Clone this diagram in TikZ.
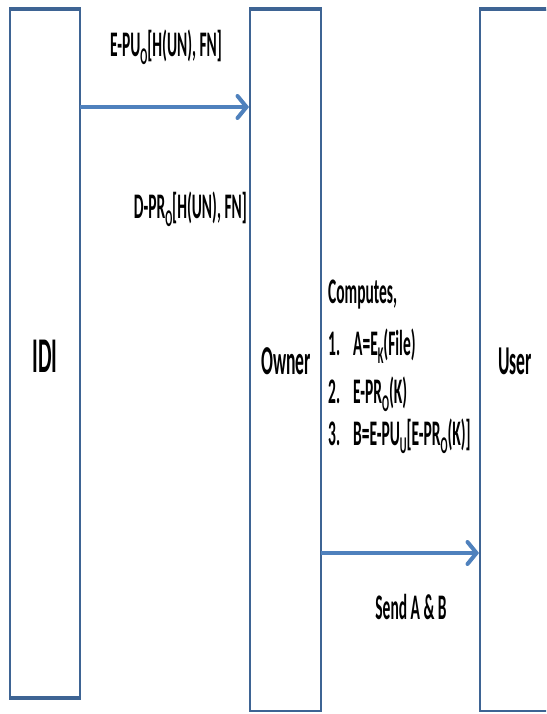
\documentclass[tikz,border=0pt]{standalone}
\usepackage{graphicx}
\usepackage{fontspec}
\setmainfont{Carlito}
\usetikzlibrary{arrows.meta}

\definecolor{laneedge}{HTML}{3E6494}
\definecolor{msgblue}{HTML}{4F81BD}

% condensed bold text and lowered subscripts
\newcommand{\nar}[1]{\scalebox{0.43}[1]{#1}}
\newcommand{\lowsub}[1]{\raisebox{-8pt}{\fontsize{24}{24}\selectfont #1}}

\tikzset{
  lane/.style={draw=laneedge, line width=1.8pt, fill=white, inner sep=0pt},
  lanecap/.style={draw=laneedge, line width=4pt},
  msg/.style={draw=msgblue, line width=4pt,
    -{Straight Barb[length=9pt,width=22pt,line cap=round]}},
  txt/.style={inner sep=0pt, anchor=base, font=\bfseries\fontsize{36}{40}\selectfont},
  txtw/.style={txt, anchor=base west},
  big/.style={inner sep=0pt, anchor=base, font=\bfseries\fontsize{41}{46}\selectfont},
}

\begin{document}
\begin{tikzpicture}[x=1pt,y=-1pt]
  \useasboundingbox (0,0) rectangle (546,714);
  \clip (0,0) rectangle (546,714);

  % the three lanes
  \node[lane, minimum width=70pt, minimum height=687pt] (idi) at (45,353.5) {};
  \node[lane, minimum width=71pt, minimum height=701pt] (owner) at (285.5,360.5) {};
  \node[lane, minimum width=90pt, minimum height=701pt] (user) at (525,360.5) {};

  \draw[lanecap] (idi.north west) -- (idi.north east);
  \draw[lanecap] (idi.south west) -- (idi.south east);
  \draw[lanecap] (owner.north west) -- (owner.north east);
  \draw[lanecap] (user.north west) -- (user.north east);

  % lane titles
  \node[inner sep=0pt, anchor=base, font=\bfseries\fontsize{50}{56}\selectfont] (tidi) at (45,372) {\nar{IDI}};
  \node[big] (towner) at (286,374) {\nar{Owner}};
  \node[big] (tuser) at (515,374) {\nar{User}};

  % messages
  \coordinate (m1) at (80,107);
  \coordinate (m2) at (321,553);
  \draw[msg] (m1) -- (m1 -| owner.west);
  \draw[msg] (m2) -- (m2 -| user.west);

  \node[txt] (l1) at (166,57) {\nar{E-PU\lowsub{O}[H(UN), FN]}};
  \node[txt, anchor=base east] (l2) at (247,218) {\nar{D-PR\lowsub{O}[H(UN), FN]}};
  \node[txt] (l3) at (411,619) {\nar{Send A \& B}};

  % computation steps
  \node[txtw] (c0) at (328,303) {\nar{Computes,}};
  \node[txtw] (n1) at (328,355) {\nar{1.}};
  \node[txtw] (s1) at (353,355) {\nar{A=E\lowsub{K}(File)}};
  \node[txtw] (n2) at (328,403) {\nar{2.}};
  \node[txtw] (s2) at (353,403) {\nar{E-PR\lowsub{O}(K)}};
  \node[txtw] (n3) at (328,445) {\nar{3.}};
  \node[txtw] (s3) at (353,445) {\nar{B=E-PU\lowsub{U}[E-PR\lowsub{O}(K)]}};
\end{tikzpicture}
\end{document}
